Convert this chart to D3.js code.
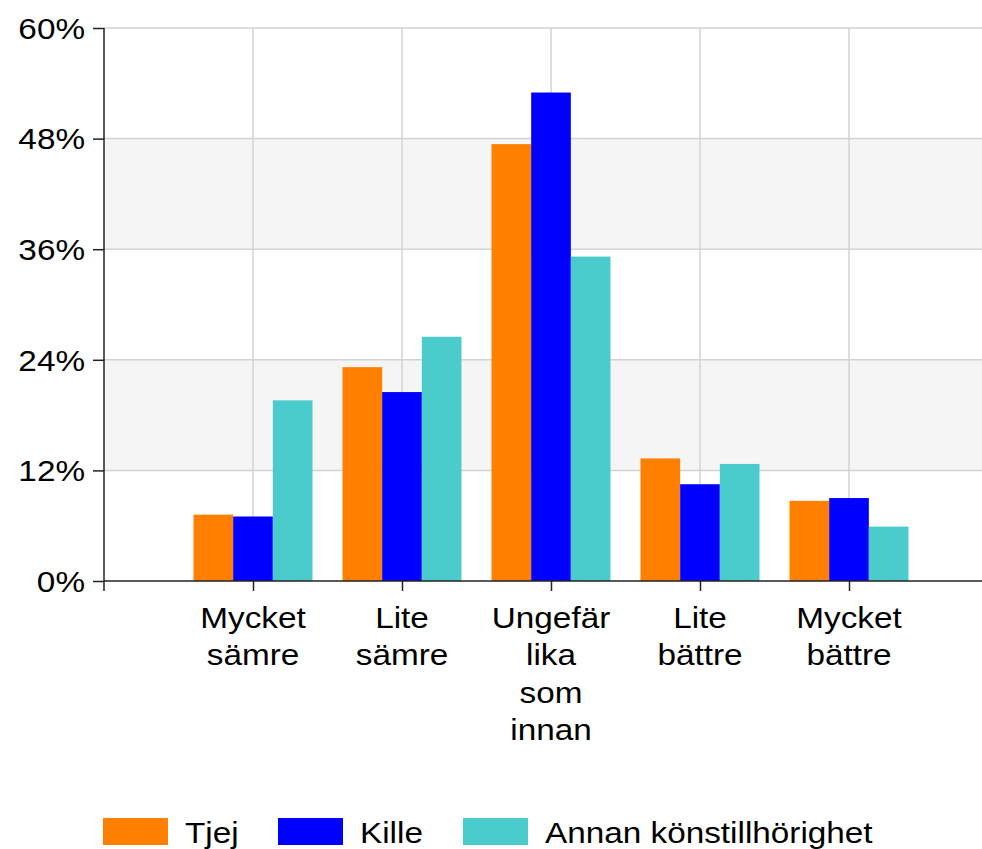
<!DOCTYPE html>
<html>
<head>
<meta charset="utf-8">
<script src="https://cdn.jsdelivr.net/npm/d3@7"></script>
<style>
  body { margin: 0; background: #fff; }
  svg { display: block; font-family: Arial, "Liberation Sans", sans-serif; }
</style>
</head>
<body>
<svg id="chart" width="982" height="849"></svg>
<script>
// categories and series
var categories = [["Mycket", "sämre"], ["Lite", "sämre"], ["Ungefär", "lika", "som", "innan"], ["Lite", "bättre"], ["Mycket", "bättre"]];
var seriesNames = ["Tjej", "Kille", "Annan könstillhörighet"];
var seriesColors = ["#ff7f00", "#0000ff", "#4ccbcc"];
var tjej = [7.2, 23.2, 47.4, 13.3, 8.7];
var kille = [7.0, 20.5, 53.0, 10.5, 9.0];
var annan = [19.6, 26.5, 35.2, 12.7, 5.9];
var yTicks = [0, 12, 24, 36, 48, 60];

var values = [tjej, kille, annan];

var svg = d3.select("#chart");
var mLeft = 104, mTop = 28, mBottom = 581, mRight = 982;
var fontSize = 30, stretch = 1.11;

// y scale
var y = d3.scaleLinear().domain([0, 60]).range([mBottom, mTop]);
// x: category index 1..5, index 0 sits on the y axis
var x = d3.scaleLinear().domain([0, 6]).range([mLeft, mLeft + 6 * 149]);
var x1 = d3.scaleBand().domain(d3.range(seriesNames.length)).range([-59.5, 59.5]);

// alternating bands
var bands = [[12, 24], [36, 48]];
svg.selectAll(".band").data(bands).enter().append("rect")
  .attr("x", mLeft).attr("width", mRight - mLeft)
  .attr("y", function(d) { return y(d[1]); })
  .attr("height", function(d) { return y(d[0]) - y(d[1]); })
  .attr("fill", "#f5f5f5");

// grid lines
svg.selectAll(".hgrid").data(yTicks.slice(1)).enter().append("line")
  .attr("x1", mLeft).attr("x2", mRight)
  .attr("y1", function(d) { return y(d); }).attr("y2", function(d) { return y(d); })
  .attr("stroke", "#d3d3d3").attr("stroke-width", 1.5);
svg.selectAll(".vgrid").data(d3.range(1, 6)).enter().append("line")
  .attr("x1", function(d) { return x(d); }).attr("x2", function(d) { return x(d); })
  .attr("y1", mTop).attr("y2", mBottom)
  .attr("stroke", "#d3d3d3").attr("stroke-width", 1.5);

// bars
var groups = svg.selectAll(".grp").data(categories).enter().append("g")
  .attr("transform", function(d, i) { return "translate(" + x(i + 1) + ",0)"; });
groups.selectAll("rect").data(function(d, i) {
    return values.map(function(s, j) { return { s: j, v: s[i] }; });
  }).enter().append("rect")
  .attr("x", function(d) { return x1(d.s); })
  .attr("width", x1.bandwidth())
  .attr("y", function(d) { return y(d.v); })
  .attr("height", function(d) { return y(0) - y(d.v); })
  .attr("fill", function(d) { return seriesColors[d.s]; });

// y axis
var yAxis = svg.append("g").attr("transform", "translate(" + mLeft + ",0)")
  .call(d3.axisLeft(y).tickValues(yTicks).tickSize(11).tickSizeOuter(0).tickFormat(""));
yAxis.select(".domain").attr("stroke", "#222").attr("stroke-width", 1.5)
  .attr("d", "M0," + mTop + "V" + (mBottom + 10));
yAxis.selectAll(".tick line").attr("stroke", "#222").attr("stroke-width", 1.5);
// tick labels, stretched a little sideways like the original
svg.selectAll(".ylabel").data(yTicks).enter().append("text")
  .attr("transform", function(d) { return "translate(85," + y(d) + ") scale(" + stretch + ",1)"; })
  .attr("text-anchor", "end").attr("dy", "0.36em")
  .attr("font-size", fontSize).attr("fill", "#000")
  .text(function(d) { return d + "%"; });

// x axis
var xAxis = svg.append("g").attr("transform", "translate(0," + mBottom + ")")
  .call(d3.axisBottom(x).tickValues(d3.range(1, 6)).tickSize(10).tickSizeOuter(0).tickFormat(""));
xAxis.select(".domain").attr("stroke", "#222").attr("stroke-width", 1.5)
  .attr("d", "M" + mLeft + ",0H" + mRight);
xAxis.selectAll(".tick line").attr("stroke", "#222").attr("stroke-width", 1.5);

// category labels
var labels = svg.selectAll(".clabel").data(categories).enter().append("text")
  .attr("transform", function(d, i) { return "translate(" + x(i + 1) + ",628) scale(" + stretch + ",1)"; })
  .attr("text-anchor", "middle").attr("font-size", fontSize).attr("fill", "#000");
labels.selectAll("tspan").data(function(d) { return d; })
  .enter().append("tspan")
  .attr("x", 0)
  .attr("y", function(d, k) { return k * 37.5; })
  .text(function(d) { return d; });

// legend
var legendX = [103, 278, 463];
var legend = svg.selectAll(".leg").data(seriesNames).enter().append("g")
  .attr("transform", function(d, i) { return "translate(" + legendX[i] + ",818)"; });
legend.append("rect").attr("width", 65).attr("height", 27)
  .attr("fill", function(d, i) { return seriesColors[i]; });
legend.append("text").attr("transform", "translate(82,25) scale(" + stretch + ",1)")
  .attr("font-size", fontSize).attr("fill", "#000")
  .text(function(d) { return d; });
</script>
</body>
</html>
